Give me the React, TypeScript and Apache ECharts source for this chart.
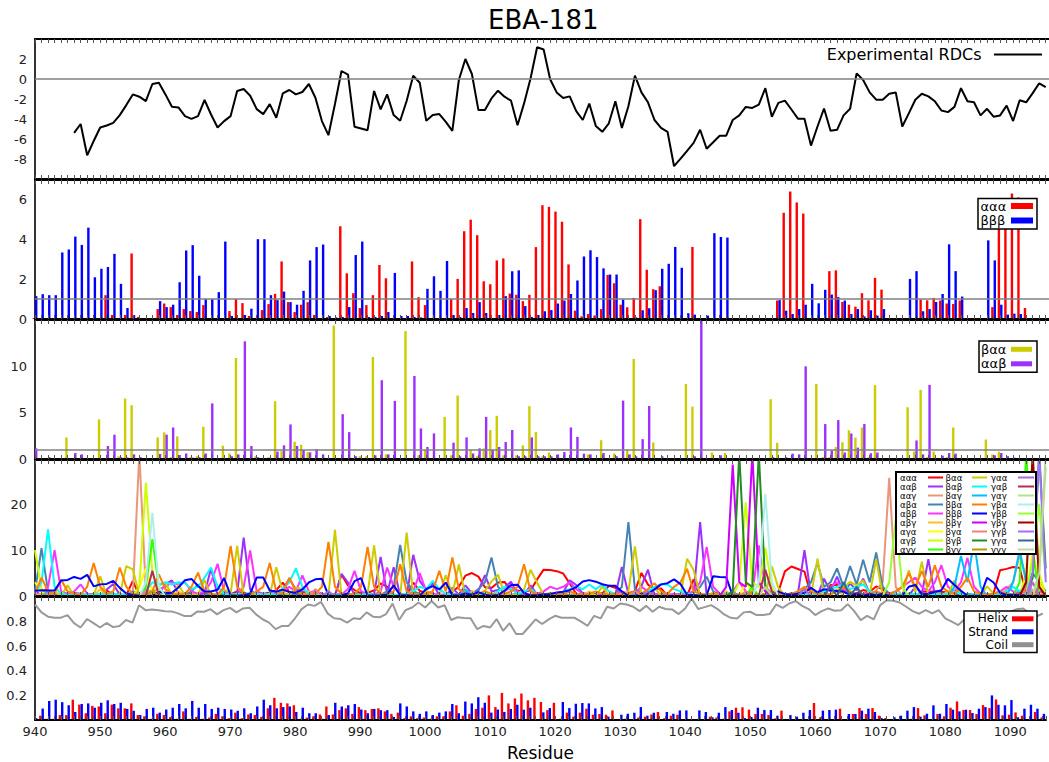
import React, { useEffect, useRef } from "react";
import * as echarts from "echarts";

// ---------- axis ----------
const X_MIN = 940;
const X_MAX = 1095.5;
const FIRST_RESIDUE = 940;
const RDC_FIRST_RESIDUE = 946;
const xTickLabels = [940, 950, 960, 970, 980, 990, 1000, 1010, 1020, 1030, 1040, 1050, 1060, 1070, 1080, 1090];

// ---------- panel 1: experimental RDCs (from residue 946) ----------
const rdcValues = [
  -5.38, -4.5, -7.63, -6.2, -4.85, -4.65, -4.38, -3.61, -2.61, -1.54,
  -1.77, -2.21, -0.5, -0.37, -1.54, -2.78, -2.84, -3.71, -3.98, -3.71,
  -2.1, -3.55, -4.85, -4.21, -3.71, -1.2, -1.0, -1.67, -3.01, -3.51,
  -2.51, -3.88, -1.44, -1.1, -1.54, -1.3, -0.5, -1.87, -4.21, -5.62,
  -2.5, 0.8, 0.43, -4.78, -4.95, -5.12, -1.2, -3.04, -1.54, -3.61,
  -4.18, -2.17, 0.33, -0.37, -4.18, -3.61, -3.51, -4.28, -5.18, -0.1,
  2.0, 0.5, -3.11, -3.11, -1.94, -1.17, -1.77, -2.17, -4.62, -2.44,
  0.07, 3.18, 2.95, -0.03, -1.34, -1.9, -1.74, -3.21, -4.1, -2.46,
  -4.69, -5.28, -4.43, -2.23, -4.89, -2.72, 0.33, -1.34, -2.33, -4.1,
  -4.89, -5.28, -8.72, -7.97, -7.18, -6.39, -5.08, -6.98, -6.33, -5.67,
  -5.67, -4.1, -3.64, -2.79, -2.89, -2.56, -0.92, -3.77, -2.39, -2.16,
  -3.05, -3.97, -3.97, -6.66, -4.75, -2.95, -5.18, -5.08, -3.64, -2.98,
  0.56, -0.1, -1.34, -2.07, -2.07, -1.48, -1.34, -4.75, -3.44, -2.07,
  -1.48, -1.74, -2.23, -3.15, -3.31, -2.79, -0.92, -2.23, -2.33, -3.64,
  -2.98, -3.77, -3.64, -2.66, -4.2, -2.13, -2.33, -1.41, -0.43, -0.82,
];

// ---------- triplet populations (residues 940..1095) ----------
// ααα (panel 2 red + panel 4)
const t_aaa = [
  0.05, 0, 0, 0, 0, 0, 0.05, 0, 0, 0,
  0.05, 1.2, 0.2, 0.05, 0.2, 3.3, 0.1, 0.05, 0.05, 0.5,
  0.78, 0.6, 0.2, 0.5, 0.4, 0.35, 0.7, 0.02, 0.02, 0.02,
  0.4, 1.0, 0.8, 0.15, 0.05, 0.45, 0.75, 1.27, 2.9, 0.85,
  0.35, 0.72, 0.85, 0.2, 0.05, 0.1, 0.05, 4.67, 2.3, 1.3,
  0.55, 0.7, 1.2, 2.72, 2.05, 0.05, 0.05, 0.05, 2.9, 1.1,
  0.7, 0.05, 0.05, 0.05, 1.0, 2.02, 4.42, 5.0, 4.22, 1.9,
  1.75, 2.95, 3.05, 1.28, 1.22, 0.9, 1.22, 3.62, 5.73, 5.65,
  5.41, 4.9, 2.75, 0.42, 0.13, 0.25, 0.18, 0.5, 2.22, 1.8,
  0.72, 0.59, 1.06, 5.03, 2.48, 1.5, 1.65, 0.05, 0.05, 0.05,
  0.05, 3.63, 0.05, 0.02, 0.02, 0.02, 0.02, 0.05, 0.05, 0.05,
  0.02, 0.02, 0.05, 0.05, 0.93, 5.35, 6.42, 5.87, 5.31, 0.05,
  0.05, 0.05, 2.41, 2.45, 0.86, 0.72, 0.62, 1.3, 0.94, 2.07,
  1.48, 0.05, 0.05, 0.05, 0.02, 0.02, 0.98, 0.94, 1.06, 0.93,
  0.78, 0.76, 0.93, 0.05, 0.05, 0.05, 0.05, 0.6, 5.6, 5.9,
  6.32, 6.12, 0.56, 0.05, 0.02, 0.02,
];
// βββ (panel 2 blue + panel 4)
const t_bbb = [
  1.15, 1.25, 1.2, 1.2, 3.35, 3.5, 4.15, 3.73, 4.6, 2.1,
  2.53, 2.62, 3.28, 1.77, 0.55, 0.2, 0.05, 0.02, 0.05, 0.9,
  0.6, 0.72, 1.85, 3.45, 3.72, 2.18, 1.0, 1.0, 1.35, 3.9,
  0.15, 0.05, 0.2, 0.52, 4.02, 4.02, 1.2, 0.95, 1.38, 0.85,
  0.72, 1.42, 2.95, 3.62, 3.75, 0.15, 0.08, 0.1, 0.6, 3.22,
  3.9, 0.1, 0.1, 0.15, 0.35, 2.32, 0.15, 0.15, 0.1, 0.08,
  1.52, 2.15, 1.42, 2.92, 0.2, 0.1, 0.55, 0.3, 0.85, 0.3,
  0.05, 0.2, 1.15, 2.4, 2.45, 0.65, 0.1, 0.2, 0.39, 0.45,
  0.78, 0.93, 1.26, 1.94, 3.15, 3.46, 3.12, 2.55, 2.24, 2.24,
  0.98, 0.05, 0.08, 0.44, 0.54, 1.45, 2.53, 2.78, 3.63, 2.58,
  0.29, 0.22, 0.05, 0.17, 4.32, 4.13, 4.1, 0.05, 0.05, 0.05,
  0.05, 0.05, 0.05, 0.05, 0.95, 0.42, 0.25, 0.5, 0.72, 1.77,
  0.79, 1.47, 1.23, 1.1, 0.93, 0.25, 0.5, 0.13, 0.44, 0.17,
  0.5, 0.05, 0.05, 0.05, 2.02, 2.41, 0.39, 0.5, 0.86, 1.26,
  3.76, 2.41, 1.13, 0.05, 0.05, 0.05, 3.96, 2.95, 0.72, 0.22,
  0.27, 0.25, 0.05, 0.05, 0.05, 0.02,
];
// βαα (panel 3 yellow + panel 4)
const t_baa = [
  0, 0.1, 0.1, 0.05, 0.05, 2.33, 0.05, 0.05, 0.1, 0.1,
  4.27, 0.1, 0.05, 0.3, 6.52, 5.8, 0.1, 0.05, 0.05, 2.33,
  2.87, 0.2, 2.44, 0.1, 0.2, 0.3, 3.48, 0.05, 0.05, 1.43,
  0.6, 10.9, 0.05, 0.1, 0.3, 0.1, 0.2, 6.24, 0.85, 0.1,
  1.86, 1.54, 0.75, 0.05, 0.05, 0.05, 14.4, 0.1, 0.1, 0.05,
  0.3, 0.3, 11.0, 0.1, 0.5, 0.1, 0.1, 13.8, 0.1, 0.4,
  1.0, 0.1, 0.1, 4.55, 0.4, 6.85, 0.1, 1.0, 0.3, 1.15,
  3.12, 4.66, 0.4, 0.1, 0.4, 1.47, 5.7, 2.9, 0.3, 0.7,
  0.1, 0.1, 0.1, 0.1, 0.1, 0.5, 0.1, 2.03, 0.1, 0.58,
  0.1, 1.0, 10.8, 0.1, 0.1, 1.78, 0.1, 0.05, 0.05, 0.05,
  8.1, 5.65, 0.1, 0.1, 0.7, 0.1, 0.65, 0.05, 0.05, 0.05,
  0.05, 0.05, 0.1, 6.45, 1.74, 0.1, 0.1, 0.1, 0.1, 0.1,
  8.1, 0.2, 0.2, 1.3, 1.8, 3.1, 2.3, 3.4, 0.2, 7.97,
  0.1, 0.1, 0.1, 0.1, 5.58, 0.8, 7.46, 0.2, 0.8, 0.1,
  0.2, 3.4, 0.1, 0.1, 0.1, 0.1, 2.1, 0.5, 0.8, 0.1,
  0.1, 0.1, 0.1, 0.05, 0.05, 0.05,
];
// ααβ (panel 3 purple + panel 4)
const t_aab = [
  1.15, 0.1, 0.2, 0.1, 0.05, 0.05, 0.65, 0.5, 0.1, 0.1,
  0.1, 1.4, 2.62, 0.2, 0.15, 0.5, 0.2, 0.05, 0.05, 0.55,
  2.62, 3.4, 0.43, 0.6, 0.15, 0.2, 0.6, 6.0, 0.1, 0.1,
  0.3, 0.5, 12.7, 1.4, 0.2, 0.1, 0.1, 0.8, 1.47, 3.73,
  1.4, 0.97, 0.72, 1.07, 0.5, 0.05, 0.05, 4.84, 2.9, 0.3,
  0.1, 0.1, 0.4, 8.5, 0.5, 6.27, 0.1, 0.1, 8.96, 3.3,
  1.3, 2.76, 0.1, 0.1, 1.76, 0.3, 2.33, 0.6, 1.15, 4.55,
  1.0, 1.3, 1.83, 3.12, 0.3, 0.3, 2.33, 0.3, 0.3, 0.3,
  0.5, 0.75, 3.4, 2.39, 0.58, 0.5, 0.1, 0.65, 0.1, 0.3,
  6.3, 0.5, 0.3, 2.14, 5.72, 0.1, 0.3, 0.1, 0.1, 0.1,
  0.1, 0.3, 16.1, 0.1, 0.1, 0.4, 0.1, 0.05, 0.05, 0.05,
  0.05, 0.05, 0.1, 0.2, 0.1, 0.2, 0.58, 0.5, 10.0, 0.1,
  0.1, 3.77, 0.94, 4.2, 0.7, 2.75, 1.23, 3.77, 0.62, 0.7,
  0.1, 0.1, 0.1, 0.1, 0.1, 2.0, 0.5, 8.0, 0.1, 0.36,
  0.65, 0.58, 0.1, 0.1, 0.1, 0.1, 0.1, 0.4, 0.65, 0.3,
  0.15, 0.1, 0.1, 0.05, 0.05, 0.05,
];
// αβα
const t_aba = [
  1.0, 10.4, 1.0, 0.5, 0.3, 0.2, 0.5, 0.3, 0.2, 0.5,
  0.3, 0.2, 0.5, 0.3, 0.2, 1.0, 0.5, 1.5, 0.8, 0.5,
  0.3, 0.5, 0.2, 0.3, 1.0, 2.5, 0.5, 0.3, 0.2, 0.5,
  0.3, 0.2, 0.5, 0.3, 0.2, 0.5, 0.3, 0.2, 0.5, 0.3,
  0.5, 0.3, 0.2, 0.5, 0.3, 0.2, 0.5, 0.3, 0.2, 0.5,
  0.3, 0.5, 0.2, 0.3, 1.0, 2.0, 11.1, 3.0, 1.0, 0.5,
  0.3, 0.5, 0.2, 0.3, 0.5, 0.3, 1.0, 0.5, 1.5, 3.0,
  8.4, 2.0, 0.5, 0.3, 0.5, 0.3, 0.2, 0.5, 0.3, 0.2,
  0.5, 0.3, 0.2, 0.5, 0.3, 0.2, 0.5, 0.3, 0.2, 0.5,
  2.0, 16.1, 1.5, 0.5, 0.3, 0.2, 0.5, 0.3, 0.2, 0.5,
  0.3, 1.0, 2.0, 4.2, 1.0, 0.3, 0.2, 0.5, 0.3, 0.2,
  0.5, 0.3, 0.2, 0.5, 0.3, 0.2, 0.5, 0.3, 1.5, 3.0,
  7.2, 2.0, 3.0, 6.0, 2.0, 6.5, 2.5, 7.9, 3.0, 9.5,
  2.0, 0.5, 0.3, 0.2, 0.5, 0.3, 0.2, 0.5, 0.3, 0.2,
  0.5, 0.3, 0.2, 0.5, 0.3, 0.2, 0.5, 0.3, 0.2, 0.5,
  0.3, 1.0, 2.0, 5.0, 3.0, 1.0,
];
// βαβ
const t_bab = [
  0.5, 3.0, 14.5, 2.0, 0.5, 0.3, 0.2, 0.5, 0.3, 0.2,
  0.5, 0.3, 0.5, 0.3, 0.2, 0.5, 0.3, 1.0, 3.0, 2.5,
  3.0, 2.5, 3.0, 2.8, 1.5, 2.0, 4.0, 6.2, 2.0, 0.5,
  0.3, 0.5, 0.3, 0.8, 0.5, 0.3, 0.5, 0.3, 1.5, 3.0,
  6.0, 2.0, 0.5, 0.3, 0.2, 0.5, 0.3, 0.2, 0.5, 0.3,
  0.2, 0.5, 0.3, 0.2, 0.5, 0.3, 0.2, 0.5, 1.0, 2.0,
  1.5, 3.3, 1.5, 0.5, 0.3, 0.2, 0.5, 0.3, 0.2, 0.5,
  0.3, 1.0, 2.0, 1.5, 0.5, 1.0, 1.5, 0.5, 0.3, 0.2,
  0.5, 1.0, 1.5, 2.0, 1.5, 2.5, 1.5, 2.5, 1.0, 0.5,
  0.3, 0.5, 0.3, 0.2, 1.0, 2.0, 2.5, 2.5, 1.5, 1.0,
  0.5, 0.3, 0.2, 0.5, 0.3, 0.2, 0.5, 0.3, 0.2, 0.5,
  0.3, 0.2, 0.5, 0.3, 0.2, 0.5, 0.3, 0.2, 0.5, 0.3,
  0.5, 1.0, 1.5, 2.0, 2.5, 1.5, 2.0, 2.5, 1.0, 0.5,
  0.3, 0.2, 0.5, 0.3, 0.2, 0.5, 0.3, 0.2, 0.5, 0.3,
  0.5, 1.0, 0.5, 0.3, 0.2, 0.5, 0.3, 0.2, 0.5, 1.0,
  2.0, 1.0, 0.5, 0.3, 0.2, 0.3,
];
// αββ
const t_abb = [
  0.3, 0.5, 2.0, 10.0, 1.0, 0.5, 1.0, 2.5, 0.5, 0.3,
  0.5, 0.3, 0.5, 0.3, 0.2, 0.5, 0.3, 0.5, 1.0, 1.5,
  2.0, 3.0, 2.5, 3.0, 1.0, 0.5, 1.0, 3.0, 7.0, 1.0,
  0.5, 0.3, 2.0, 9.9, 1.0, 0.5, 0.3, 0.5, 1.0, 2.0,
  1.0, 4.5, 1.0, 0.5, 0.3, 0.2, 0.5, 0.3, 1.5, 5.5,
  1.0, 0.5, 0.3, 1.0, 6.2, 2.0, 0.5, 0.3, 1.0, 5.0,
  1.0, 0.5, 0.3, 0.2, 0.5, 0.3, 0.5, 1.0, 0.5, 0.3,
  0.5, 0.3, 1.0, 2.0, 1.0, 0.5, 0.3, 0.5, 1.0, 2.0,
  1.5, 2.0, 3.0, 1.5, 0.5, 0.3, 0.2, 0.5, 0.3, 0.5,
  1.0, 0.5, 0.3, 2.0, 1.0, 0.5, 0.3, 0.2, 0.5, 0.3,
  0.5, 1.0, 3.0, 10.7, 2.0, 0.5, 0.3, 1.0, 3.0, 1.0,
  0.5, 11.0, 2.0, 0.5, 0.3, 0.5, 0.3, 0.2, 0.5, 0.3,
  0.5, 1.0, 2.0, 3.0, 1.5, 0.5, 0.3, 0.5, 1.0, 0.5,
  0.3, 0.5, 1.0, 2.0, 3.0, 4.0, 2.0, 1.0, 3.0, 6.7,
  2.0, 1.0, 3.0, 8.3, 2.0, 0.5, 0.3, 0.5, 1.0, 2.0,
  1.0, 0.5, 0.3, 0.5, 1.0, 0.5,
];
// ββα
const t_bba = [
  0.5, 4.0, 1.0, 0.5, 3.6, 1.0, 0.5, 0.3, 2.0, 7.2,
  2.0, 0.5, 1.0, 6.2, 2.0, 0.5, 0.3, 0.5, 1.0, 4.7,
  1.5, 0.5, 0.3, 0.5, 2.0, 5.1, 1.0, 0.5, 0.3, 2.0,
  10.9, 2.0, 0.5, 0.3, 1.0, 2.0, 7.2, 1.0, 0.5, 4.0,
  1.0, 0.5, 0.3, 0.5, 2.0, 11.8, 2.0, 0.5, 0.3, 0.5,
  2.0, 10.7, 2.0, 0.5, 0.3, 1.0, 6.9, 1.0, 0.5, 0.3,
  0.5, 1.0, 5.5, 1.0, 8.4, 1.5, 0.5, 0.3, 0.5, 1.0,
  0.5, 0.3, 0.5, 1.0, 2.0, 6.9, 1.0, 0.5, 0.3, 0.2,
  0.5, 0.3, 1.0, 0.5, 0.3, 0.5, 1.0, 0.5, 0.3, 0.5,
  0.3, 0.5, 1.0, 0.5, 1.5, 2.8, 1.0, 0.5, 2.0, 3.0,
  5.9, 1.0, 0.5, 0.3, 0.5, 0.3, 0.2, 0.5, 0.3, 0.2,
  0.5, 0.3, 0.5, 1.0, 0.5, 0.3, 0.5, 1.0, 2.0, 1.0,
  0.5, 0.3, 0.5, 1.0, 2.0, 1.0, 0.5, 0.3, 0.5, 1.0,
  0.5, 0.3, 1.0, 2.0, 5.0, 2.0, 5.4, 2.0, 6.7, 2.0,
  1.0, 0.5, 2.0, 4.0, 1.0, 0.5, 0.3, 0.5, 1.0, 0.5,
  0.3, 0.5, 1.0, 0.5, 0.3, 0.5,
];
// sparse triplets: [residue, population] key points
const t_aag = [[940, 0], [954, 0], [955, 0.5], [956, 31], [957, 1], [958, 0], [1068, 0], [1069, 1.2], [1070, 3], [1071, 25.7], [1072, 2], [1073, 0], [1088, 0], [1089, 1.5], [1090, 3], [1091, 9], [1092, 4], [1093, 1], [1094, 0], [1095, 0]];
const t_abg = [[940, 0], [941, 0.5], [942, 0], [943, 1], [944, 0], [949, 0], [950, 1.5], [951, 0], [956, 0], [957, 2], [958, 0], [961, 0], [962, 1], [963, 0], [981, 0], [982, 1], [983, 0], [999, 0], [1000, 1], [1001, 0], [1024, 0], [1025, 1], [1026, 0], [1045, 0], [1046, 1], [1047, 0], [1062, 0], [1063, 1.5], [1064, 0], [1079, 0], [1080, 1], [1081, 0], [1095, 0]];
const t_aga = [[940, 3], [941, 1], [942, 0], [955, 0], [956, 2], [957, 6], [958, 1], [959, 0], [1048, 0], [1049, 3], [1050, 1], [1051, 0], [1092, 0], [1093, 10], [1094, 3], [1095, 0]];
const t_agb = [[940, 10], [941, 1.5], [942, 0.5], [943, 0], [955, 0], [956, 2], [957, 24.7], [958, 5], [959, 1], [960, 0], [1047, 0], [1048, 3], [1049, 20.4], [1050, 3], [1051, 2], [1052, 10.5], [1053, 2], [1054, 0], [1091, 0], [1092, 5], [1093, 31], [1094, 5], [1095, 0]];
const t_agg = [[940, 0], [956, 0], [957, 2], [958, 12.4], [959, 2], [960, 0], [1049, 0], [1050, 2], [1051, 0], [1090, 0], [1091, 3], [1092, 31], [1093, 10], [1094, 0], [1095, 0]];
const t_bag = [[940, 0], [941, 0], [942, 1], [943, 0], [1005, 0], [1006, 1.5], [1007, 0], [1046, 0], [1047, 1], [1048, 0], [1080, 0], [1081, 2], [1082, 8.7], [1083, 3], [1084, 12], [1085, 2], [1086, 0], [1089, 0], [1090, 3], [1091, 10], [1092, 3], [1093, 0], [1095, 0]];
const t_bbg = [[940, 0], [1045, 0], [1046, 2], [1047, 28.6], [1048, 3], [1049, 2], [1050, 31], [1051, 3], [1052, 1], [1053, 0], [1095, 0]];
const t_bga = [[940, 0], [941, 0], [942, 0.5], [943, 0], [956, 0], [957, 1], [958, 0], [982, 0], [983, 1.5], [984, 0], [1031, 0], [1032, 1], [1033, 0], [1048, 0], [1049, 1], [1050, 0], [1091, 0], [1092, 2], [1093, 0], [1095, 0]];
const t_bgb = [[940, 0], [1046, 0], [1047, 1], [1048, 31], [1049, 3], [1050, 2], [1051, 31], [1052, 2], [1053, 0], [1092, 0], [1093, 4], [1094, 31], [1095, 6]];
const t_bgg = [[940, 0], [957, 0], [958, 1], [959, 0], [1049, 0], [1050, 1], [1051, 0], [1093, 0], [1094, 2], [1095, 0]];
const t_gaa = [[940, 0], [984, 0], [985, 1], [986, 0], [1033, 0], [1034, 1], [1035, 0], [1057, 0], [1058, 1.5], [1059, 0], [1092, 0], [1093, 3], [1094, 0], [1095, 0]];
const t_gab = [[940, 0], [957, 0], [958, 5.5], [959, 0], [1051, 0], [1052, 5.7], [1053, 1], [1054, 0], [1095, 0]];
const t_gag = [[940, 0], [1051, 0], [1052, 2], [1053, 0], [1093, 0], [1094, 5], [1095, 28]];
const t_gba = [[940, 0], [956, 0], [957, 3], [958, 18.1], [959, 2], [960, 0], [1050, 0], [1051, 3], [1052, 22.2], [1053, 3], [1054, 0], [1095, 0]];
const t_gbb = [[940, 0], [1070, 0], [1071, 3], [1072, 16.7], [1073, 2], [1074, 0], [1092, 0], [1093, 8], [1094, 20], [1095, 4]];
const t_gbg = [[940, 0], [1091, 0], [1092, 3], [1093, 31], [1094, 2], [1095, 0]];
const t_ggb = [[940, 0], [1092, 0], [1093, 5], [1094, 31], [1095, 3]];
const t_gga = [[940, 0], [1061, 0], [1062, 2], [1063, 0], [1064, 3], [1065, 0], [1066, 2], [1067, 0], [1095, 0]];
const t_ggg = [[940, 0], [1093, 0], [1094, 5], [1095, 31]];

// ---------- panel 5: secondary structure ----------
const helix = [
  0.0, 0.035, 0.01, 0.01, 0.04, 0.04, 0.165, 0.125, 0.055, 0.115,
  0.11, 0.055, 0.125, 0.095, 0.095, 0.135, 0.04, 0.03, 0.01, 0.05,
  0.04, 0.025, 0.01, 0.07, 0.01, 0.025, 0.01, 0.02, 0.05, 0.03,
  0.015, 0.06, 0.015, 0.045, 0.04, 0.025, 0.095, 0.18, 0.14, 0.135,
  0.12, 0.01, 0.02, 0.03, 0.045, 0.11, 0.045, 0.08, 0.095, 0.05,
  0.105, 0.08, 0.09, 0.095, 0.07, 0.05, 0.06, 0.015, 0.03, 0.015,
  0.02, 0.01, 0.03, 0.03, 0.07, 0.12, 0.035, 0.05, 0.09, 0.1,
  0.2, 0.105, 0.22, 0.135, 0.175, 0.215, 0.16, 0.18, 0.146, 0.08,
  0.14, 0.01, 0.06, 0.027, 0.06, 0.092, 0.043, 0.049, 0.043, 0.078,
  0.005, 0.01, 0.008, 0.02, 0.027, 0.045, 0.065, 0.015, 0.035, 0.043,
  0.005, 0.008, 0.008, 0.008, 0.027, 0.02, 0.01, 0.07, 0.1, 0.103,
  0.084, 0.049, 0.049, 0.04, 0.013, 0.076, 0.003, 0.005, 0.005, 0.003,
  0.138, 0.024, 0.008, 0.008, 0.092, 0.003, 0.049, 0.097, 0.049, 0.097,
  0.035, 0.016, 0.003, 0.003, 0.003, 0.01, 0.097, 0.038, 0.003, 0.049,
  0.03, 0.1, 0.151, 0.081, 0.081, 0.049, 0.121, 0.097, 0.167, 0.038,
  0.043, 0.062, 0.035, 0.005, 0.065, 0.02,
];
const strand = [
  0.015, 0.093, 0.155, 0.165, 0.145, 0.12, 0.065, 0.13, 0.135, 0.1,
  0.14, 0.16, 0.13, 0.14, 0.09, 0.075, 0.04, 0.09, 0.1, 0.06,
  0.085, 0.1, 0.13, 0.095, 0.155, 0.1, 0.13, 0.09, 0.1, 0.09,
  0.085, 0.075, 0.095, 0.055, 0.11, 0.165, 0.12, 0.095, 0.105, 0.11,
  0.065, 0.1, 0.055, 0.055, 0.01, 0.04, 0.14, 0.11, 0.12, 0.13,
  0.085, 0.055, 0.09, 0.08, 0.08, 0.025, 0.135, 0.11, 0.07, 0.05,
  0.07, 0.04, 0.06, 0.07, 0.13, 0.055, 0.15, 0.135, 0.185, 0.14,
  0.06, 0.085, 0.065, 0.09, 0.124, 0.084, 0.1, 0.005, 0.062, 0.097,
  0.005, 0.146, 0.097, 0.132, 0.138, 0.135, 0.094, 0.105, 0.027, 0.005,
  0.043, 0.051, 0.059, 0.105, 0.035, 0.059, 0.005, 0.065, 0.051, 0.078,
  0.078, 0.003, 0.078, 0.065, 0.022, 0.059, 0.105, 0.081, 0.059, 0.016,
  0.024, 0.1, 0.081, 0.081, 0.035, 0.003, 0.04, 0.027, 0.059, 0.081,
  0.005, 0.076, 0.081, 0.084, 0.003, 0.049, 0.049, 0.076, 0.092, 0.065,
  0.016, 0.005, 0.022, 0.035, 0.076, 0.105, 0.027, 0.051, 0.119, 0.051,
  0.13, 0.084, 0.07, 0.084, 0.057, 0.092, 0.105, 0.2, 0.124, 0.119,
  0.162, 0.022, 0.092, 0.124, 0.092, 0.05,
];
const coil = [
  0.939, 0.875, 0.84, 0.832, 0.832, 0.853, 0.787, 0.752, 0.821, 0.787,
  0.752, 0.789, 0.755, 0.765, 0.813, 0.792, 0.933, 0.893, 0.899, 0.893,
  0.885, 0.883, 0.867, 0.845, 0.845, 0.883, 0.88, 0.901, 0.859, 0.893,
  0.912, 0.875, 0.907, 0.912, 0.859, 0.819, 0.792, 0.739, 0.765, 0.765,
  0.827, 0.901, 0.939, 0.928, 0.96, 0.867, 0.827, 0.821, 0.792, 0.827,
  0.821, 0.875, 0.84, 0.835, 0.861, 0.947, 0.813, 0.893, 0.915, 0.955,
  0.915, 0.968, 0.915, 0.933, 0.813, 0.835, 0.829, 0.827, 0.739, 0.765,
  0.752, 0.821, 0.725, 0.787, 0.699, 0.699, 0.758, 0.818, 0.78, 0.818,
  0.847, 0.831, 0.831, 0.831, 0.799, 0.766, 0.847, 0.826, 0.921, 0.907,
  0.947, 0.939, 0.921, 0.885, 0.928, 0.88, 0.921, 0.902, 0.899, 0.861,
  0.907, 0.988, 0.902, 0.918, 0.934, 0.902, 0.858, 0.831, 0.826, 0.875,
  0.88, 0.853, 0.853, 0.861, 0.939, 0.912, 0.947, 0.966, 0.928, 0.902,
  0.853, 0.885, 0.907, 0.888, 0.893, 0.942, 0.885, 0.812, 0.847, 0.818,
  0.934, 0.974, 0.969, 0.955, 0.921, 0.885, 0.864, 0.893, 0.866, 0.893,
  0.826, 0.799, 0.772, 0.82, 0.83, 0.85, 0.84, 0.8, 0.78, 0.86,
  0.88, 0.9, 0.907, 0.866, 0.84, 0.866,
];

// ---------- names / colours ----------
const tripletNames = [
  "ααα", "ααβ", "ααγ", "αβα", "αββ", "αβγ", "αγα", "αγβ", "αγγ",
  "βαα", "βαβ", "βαγ", "ββα", "βββ", "ββγ", "βγα", "βγβ", "βγγ",
  "γαα", "γαβ", "γαγ", "γβα", "γββ", "γβγ", "γγβ", "γγα", "γγγ",
];
const tripletColors = [
  "#ff0000", "#9b30ff", "#e9967a", "#4682b4", "#ff33ff", "#ffbf20", "#ffff00", "#ccff00", "#33ff00",
  "#cccc00", "#00ffff", "#00bfff", "#ff8000", "#0000ff", "#cc00ff", "#f08080", "#228b22", "#b8960b",
  "#b266d9", "#b03050", "#b5e08a", "#b0eeee", "#99ff33", "#a00000", "#a070ff", "#2f6a8a", "#bcd8a0",
];

const FONT = "DejaVu Sans";

function seq(vals: number[], start: number) {
  return vals.map((v, i) => [start + i, v]);
}

export default function App() {
  const ref = useRef<HTMLDivElement>(null);

  useEffect(() => {
    if (!ref.current) return;
    const chart = echarts.init(ref.current, null, { renderer: "svg" });

    const grids = [
      { left: 35, right: 0, top: 39, height: 140 },
      { left: 35, right: 0, top: 180, height: 139 },
      { left: 35, right: 0, top: 320, height: 139 },
      { left: 35, right: 0, top: 460, height: 136 },
      { left: 35, right: 0, top: 597, height: 125 },
    ];

    const xAxes: any[] = [];
    grids.forEach((_, gi) => {
      const isLast = gi === grids.length - 1;
      xAxes.push({
        type: "value",
        gridIndex: gi,
        position: "bottom",
        min: X_MIN,
        max: X_MAX,
        interval: 1,
        z: 5,
        axisLine: { show: true, onZero: false, lineStyle: { color: "#000", width: 2 } },
        axisTick: { show: true, inside: true, length: 4, lineStyle: { color: "#555", width: 1 } },
        axisLabel: {
          show: isLast,
          fontSize: 13,
          color: "#222",
          fontFamily: FONT,
          margin: 5,
          formatter: (v: number) => (xTickLabels.indexOf(v) >= 0 ? String(v) : ""),
        },
        splitLine: { show: false },
        name: isLast ? "Residue" : "",
        nameLocation: "middle",
        nameGap: 24,
        nameTextStyle: { fontSize: 17, color: "#000", fontFamily: FONT },
      });
      xAxes.push({
        type: "value",
        gridIndex: gi,
        position: "top",
        min: X_MIN,
        max: X_MAX,
        interval: 1,
        z: 5,
        axisLine: { show: true, onZero: false, lineStyle: { color: "#000", width: 2 } },
        axisTick: { show: true, inside: true, length: 4, lineStyle: { color: "#555", width: 1 } },
        axisLabel: { show: false },
        splitLine: { show: false },
      });
    });

    const yAxis = (gi: number, min: number, max: number, interval: number, shown: number[], dec = 0) => ({
      type: "value",
      gridIndex: gi,
      min,
      max,
      interval,
      axisLine: { show: true, onZero: false, lineStyle: { color: "#333", width: 2 } },
      axisTick: { show: false },
      splitLine: { show: false },
      axisLabel: {
        fontSize: 13,
        color: "#222",
        fontFamily: FONT,
        margin: 8,
        showMinLabel: true,
        showMaxLabel: true,
        formatter: (v: number) => {
          const hit = shown.find((s) => Math.abs(s - v) < 1e-6);
          return hit === undefined ? "" : hit.toFixed(dec);
        },
      },
    });

    const yAxes = [
      yAxis(0, -10, 4, 2, [-8, -6, -4, -2, 0, 2]),
      yAxis(1, 0, 7, 2, [0, 2, 4, 6]),
      yAxis(2, 0, 15, 5, [0, 5, 10]),
      yAxis(3, 0, 29.6, 10, [0, 10, 20]),
      yAxis(4, 0, 1, 0.2, [0.2, 0.4, 0.6, 0.8], 1),
    ];

    const refLine = (y: number) => ({
      silent: true,
      symbol: ["none", "none"],
      label: { show: false },
      lineStyle: { color: "#808080", width: 1.6, type: "solid" },
      data: [{ yAxis: y }],
    });

    const bar = (name: string, color: string, data: number[], gi: number, extra: any = {}) => ({
      type: "bar",
      name,
      xAxisIndex: gi * 2,
      yAxisIndex: gi,
      data: seq(data, FIRST_RESIDUE),
      barWidth: 2.4,
      barGap: "0%",
      clip: true,
      itemStyle: { color, borderColor: color, borderWidth: 0 },
      ...extra,
    });

    const tripletData: any[] = [
      seq(t_aaa, FIRST_RESIDUE), seq(t_aab, FIRST_RESIDUE), t_aag, seq(t_aba, FIRST_RESIDUE), seq(t_abb, FIRST_RESIDUE), t_abg, t_aga, t_agb, t_agg,
      seq(t_baa, FIRST_RESIDUE), seq(t_bab, FIRST_RESIDUE), t_bag, seq(t_bba, FIRST_RESIDUE), seq(t_bbb, FIRST_RESIDUE), t_bbg, t_bga, t_bgb, t_bgg,
      t_gaa, t_gab, t_gag, t_gba, t_gbb, t_gbg, t_ggb, t_gga, t_ggg,
    ];

    const series: any[] = [
      {
        type: "line",
        name: "Experimental RDCs",
        xAxisIndex: 0,
        yAxisIndex: 0,
        data: seq(rdcValues, RDC_FIRST_RESIDUE),
        symbol: "none",
        lineStyle: { color: "#000", width: 2 },
        itemStyle: { color: "#000" },
        markLine: refLine(0),
      },
      bar("ααα (bars)", "#ff0000", t_aaa, 1, { markLine: refLine(1) }),
      bar("βββ (bars)", "#0000ff", t_bbb, 1),
      bar("βαα (bars)", "#cccc00", t_baa, 2, { markLine: refLine(1) }),
      bar("ααβ (bars)", "#9b30ff", t_aab, 2),
    ];

    tripletNames.forEach((name, i) => {
      series.push({
        type: "line",
        name,
        xAxisIndex: 6,
        yAxisIndex: 3,
        data: tripletData[i],
        symbol: "none",
        clip: true,
        lineStyle: { color: tripletColors[i], width: 2 },
        itemStyle: { color: tripletColors[i] },
      });
    });

    series.push(bar("Helix", "#ff0000", helix, 4));
    series.push(bar("Strand", "#0000ff", strand, 4));
    series.push({
      type: "line",
      name: "Coil",
      xAxisIndex: 8,
      yAxisIndex: 4,
      data: seq(coil, FIRST_RESIDUE),
      symbol: "none",
      lineStyle: { color: "#999999", width: 2 },
      itemStyle: { color: "#999999" },
    });

    // ---------- legends (graphic) ----------
    const Z = 100;
    const txt = (x: number, y: number, text: string, size: number, align = "left", lh?: number) => ({
      type: "text",
      x,
      y,
      z: Z + 1,
      style: {
        text,
        fontSize: size,
        fontFamily: FONT,
        fill: "#000",
        textAlign: align,
        textVerticalAlign: "middle",
        ...(lh ? { lineHeight: lh } : {}),
      },
    });
    const box = (x: number, y: number, w: number, h: number, lw = 1.5) => ({
      type: "rect",
      z: Z,
      shape: { x, y, width: w, height: h },
      style: { fill: "#fff", stroke: "#000", lineWidth: lw },
    });
    const swatch = (x: number, yc: number, w: number, h: number, color: string) => ({
      type: "rect",
      z: Z + 1,
      shape: { x, y: yc - h / 2, width: w, height: h },
      style: { fill: color },
    });
    const seg = (x1: number, x2: number, y: number, color: string, lw = 2) => ({
      type: "line",
      z: Z + 1,
      shape: { x1, y1: y, x2, y2: y },
      style: { stroke: color, lineWidth: lw },
    });

    const graphics: any[] = [];
    // panel 1
    graphics.push(txt(981.5, 54.5, "Experimental RDCs", 16, "right"));
    graphics.push(seg(994, 1042, 54.5, "#000", 2));
    // panel 2
    graphics.push(box(978, 198.6, 59, 30.4));
    graphics.push(txt(980.5, 206, "ααα", 13, "left", 13.5));
    graphics.push(txt(980.5, 220.5, "βββ", 13, "left", 13.5));
    graphics.push(swatch(1011, 206, 22, 6, "#ff0000"));
    graphics.push(swatch(1011, 220.5, 22, 6, "#0000ff"));
    // panel 3
    graphics.push(box(979, 341, 58, 31.3));
    graphics.push(txt(981, 349.3, "βαα", 13, "left", 13.5));
    graphics.push(txt(981, 363.8, "ααβ", 13, "left", 13.5));
    graphics.push(swatch(1011, 349.3, 21, 5, "#cccc00"));
    graphics.push(swatch(1011, 363.8, 21, 5, "#9b30ff"));
    // panel 4 (3 columns x 9 rows)
    graphics.push(box(896, 472, 140, 82, 2));
    const colText = [900, 945.5, 991];
    const colLine = [[928, 943], [972, 987], [1018, 1034]];
    tripletNames.forEach((name, i) => {
      const c = Math.floor(i / 9);
      const r = i % 9;
      const y = 477.5 + r * 9.0;
      graphics.push(txt(colText[c], y, name, 8.6, "left", 8.8));
      graphics.push(seg(colLine[c][0], colLine[c][1], y, tripletColors[i], 2));
    });
    // panel 5
    graphics.push(box(964, 611, 73, 41.4));
    graphics.push(txt(1008, 618.3, "Helix", 12, "right", 12.5));
    graphics.push(txt(1008, 631.5, "Strand", 12, "right", 12.5));
    graphics.push(txt(1008, 644.7, "Coil", 12, "right", 12.5));
    graphics.push(swatch(1012, 618.8, 21.5, 5, "#ff0000"));
    graphics.push(swatch(1012, 631.8, 21.5, 5, "#0000ff"));
    graphics.push(swatch(1012, 644.7, 21.5, 5, "#909090"));

    chart.setOption({
      animation: false,
      backgroundColor: "#ffffff",
      textStyle: { fontFamily: FONT },
      title: {
        text: "EBA-181",
        left: 488,
        top: 7,
        padding: 0,
        textStyle: { fontSize: 26, fontWeight: "normal", color: "#000", fontFamily: FONT },
      },
      grid: grids,
      xAxis: xAxes,
      yAxis: yAxes,
      series,
      graphic: { elements: graphics },
    });

    return () => chart.dispose();
  }, []);

  return (
    <div
      ref={ref}
      style={{ position: "absolute", left: 0, top: 0, width: 1049, height: 762, background: "#fff" }}
    />
  );
}
